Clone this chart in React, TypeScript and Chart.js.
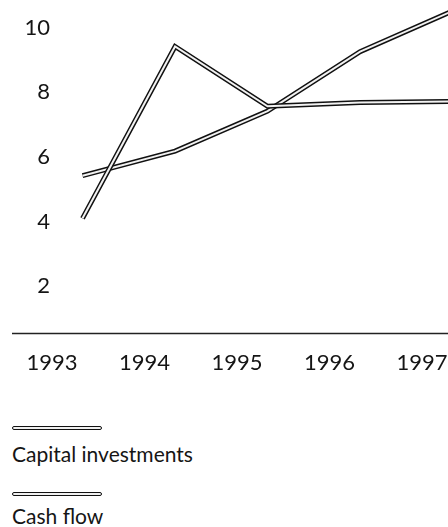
import React, { useEffect, useRef } from "react";
import { Chart, registerables } from "chart.js";

Chart.register(...registerables);

const years = [1993, 1994, 1995, 1996, 1997];
const pointYears = [1993.33, 1994.33, 1995.33, 1996.33, 1997.33];
const capitalInvestments = [4.1, 9.42, 7.57, 7.69, 7.72];
const cashFlow = [5.42, 6.18, 7.42, 9.26, 10.52];
const yTicks = [2, 4, 6, 8, 10];
const seriesNames = ["Capital investments", "Cash flow"];

const FONT = "Lato, 'DejaVu Sans', sans-serif";
const INK = "#151515";

const baselinePlugin = {
  id: "baselinePlugin",
  afterDraw(chart: any) {
    const ctx = chart.ctx;
    const y = Math.round(chart.chartArea.bottom) + 0.5;
    ctx.save();
    ctx.strokeStyle = "#222";
    ctx.lineWidth = 1.3;
    ctx.beginPath();
    ctx.moveTo(12, y);
    ctx.lineTo(chart.width, y);
    ctx.stroke();
    ctx.restore();
  },
};

function toPoints(vals: number[]) {
  return vals.map((v, i) => ({ x: pointYears[i], y: v }));
}

export default function App() {
  const ref = useRef<HTMLCanvasElement | null>(null);

  useEffect(() => {
    if (!ref.current) return;
    const outer = (data: number[], order: number) => ({
      data: toPoints(data),
      borderColor: "#111",
      borderWidth: 5,
      pointRadius: 0,
      borderJoinStyle: "miter" as const,
      borderCapStyle: "butt" as const,
      tension: 0,
      fill: false,
      order,
    });
    const inner = (data: number[], order: number) => ({
      data: toPoints(data),
      borderColor: "#f2f2f2",
      borderWidth: 2,
      pointRadius: 0,
      borderJoinStyle: "miter" as const,
      borderCapStyle: "butt" as const,
      tension: 0,
      fill: false,
      order,
    });
    const chart = new Chart(ref.current, {
      type: "line",
      data: {
        datasets: [
          { label: seriesNames[1], ...outer(cashFlow, 4) },
          { label: seriesNames[1] + " inner", ...inner(cashFlow, 3) },
          { label: seriesNames[0], ...outer(capitalInvestments, 2) },
          { label: seriesNames[0] + " inner", ...inner(capitalInvestments, 1) },
        ],
      },
      options: {
        animation: false,
        responsive: false,
        maintainAspectRatio: false,
        layout: { padding: 0 },
        plugins: { legend: { display: false }, tooltip: { enabled: false } },
        scales: {
          x: {
            type: "linear",
            min: 1993,
            max: 1997.28,
            grid: { display: false, drawTicks: false },
            border: { display: false },
            afterBuildTicks: (s: any) => {
              s.ticks = years.map((v) => ({ value: v }));
            },
            afterFit: (s: any) => {
              s.height = 57;
              s.paddingLeft = 0;
              s.paddingRight = 0;
            },
            ticks: {
              padding: 17,
              autoSkip: false,
              maxRotation: 0,
              color: INK,
              font: { family: FONT, size: 22 },
              callback: (v: any) => String(v),
            },
          },
          y: {
            type: "linear",
            min: 0.55,
            max: 10.86,
            grid: { display: false, drawTicks: false },
            border: { display: false },
            afterBuildTicks: (s: any) => {
              s.ticks = yTicks.map((v) => ({ value: v }));
            },
            afterFit: (s: any) => {
              s.width = 52;
              s.paddingTop = 0;
              s.paddingBottom = 0;
            },
            ticks: {
              padding: 2,
              color: INK,
              font: { family: FONT, size: 22 },
              callback: (v: any) => String(v),
            },
          },
        },
      },
      plugins: [baselinePlugin],
    });
    return () => chart.destroy();
  }, []);

  const swatch = (top: number): React.CSSProperties => ({
    position: "absolute",
    left: 12,
    top,
    width: 88,
    height: 2,
    border: "1.5px solid #111",
    borderRadius: 2,
    background: "#f0f0f0",
  });
  const label = (top: number): React.CSSProperties => ({
    position: "absolute",
    left: 12,
    top,
    fontFamily: FONT,
    fontSize: 21,
    lineHeight: "24px",
    color: INK,
    whiteSpace: "nowrap",
  });

  return (
    <div style={{ position: "absolute", left: 0, top: 0, width: 448, height: 527, overflow: "hidden", background: "#fff" }}>
      <canvas ref={ref} width={448} height={390} style={{ display: "block", width: 448, height: 390 }} />
      <div style={swatch(426)} />
      <div style={label(442)}>{seriesNames[0]}</div>
      <div style={swatch(492)} />
      <div style={label(504)}>{seriesNames[1]}</div>
    </div>
  );
}
